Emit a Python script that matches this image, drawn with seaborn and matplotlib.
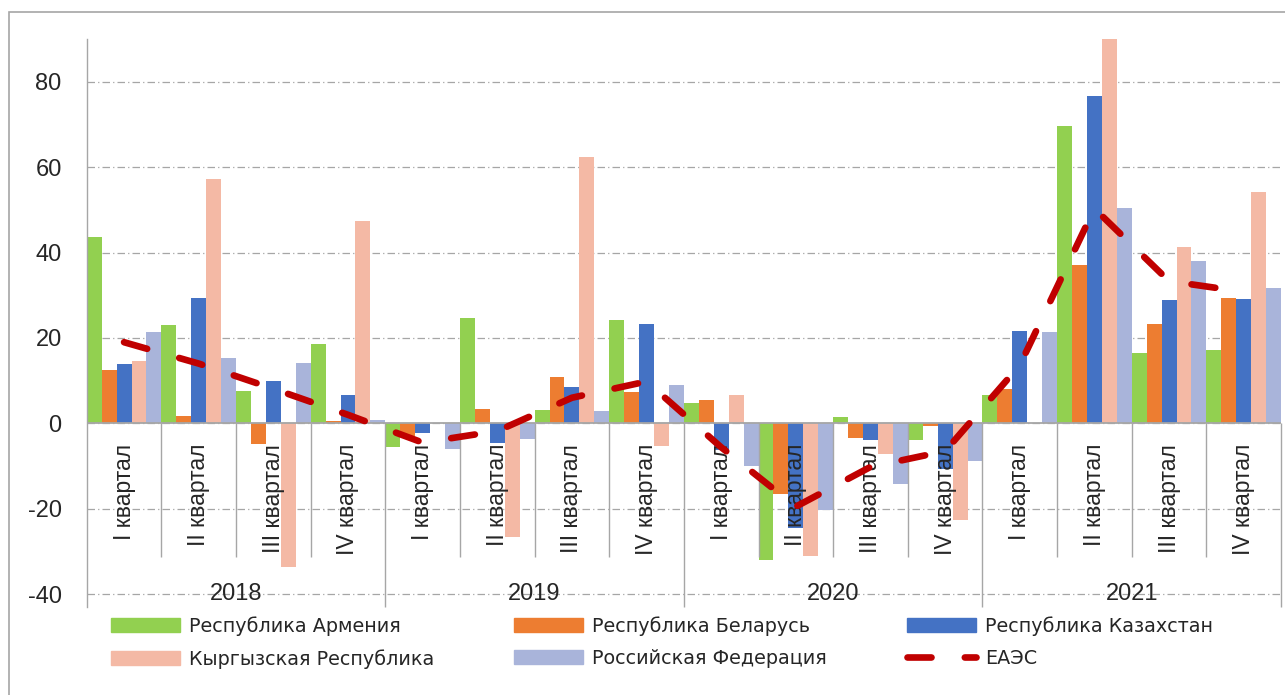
import numpy as np
import pandas as pd
import matplotlib.pyplot as plt
import matplotlib.patches as mpatches
from matplotlib.lines import Line2D
import seaborn as sns

# Data (percent change by quarter)
years = ['2018', '2019', '2020', '2021']
quarters = ['I квартал', 'II квартал', 'III квартал', 'IV квартал']
countries = ['Республика Армения', 'Республика Беларусь', 'Республика Казахстан',
             'Кыргызская Республика', 'Российская Федерация']
colors = ['#92D050', '#ED7D31', '#4472C4', '#F4B9A5', '#A9B4DA']

armenia = [43.7, 23.0, 7.5, 18.5, -5.5, 24.7, 3.1, 24.3, 4.8, -31.9, 1.6, -4.0, 6.6, 69.6, 16.5, 17.2]
belarus = [12.4, 1.7, -4.9, 0.6, -3.0, 3.3, 10.8, 7.3, 5.4, -16.5, -3.5, -0.5, 8.0, 37.0, 23.3, 29.4]
kazakhstan = [13.8, 29.4, 9.9, 6.7, -2.2, -4.7, 8.6, 23.3, -6.2, -24.4, -4.0, -10.8, 21.7, 76.6, 28.9, 29.1]
kyrgyzstan = [14.5, 57.3, -33.6, 47.4, 0.0, -26.5, 62.4, -5.3, 6.7, -31.1, -7.1, -22.6, 0.0, 95.0, 41.2, 54.2]
russia = [21.5, 15.3, 14.1, 0.9, -6.1, -3.7, 3.0, 8.9, -9.9, -20.2, -14.1, -8.9, 21.4, 50.5, 38.0, 31.6]
eaes = [19.0, 14.0, 8.1, 2.0, -4.5, -1.8, 6.0, 9.8, -5.6, -19.5, -10.2, -6.5, 13.6, 50.3, 33.3, 30.8]

periods = [f'{y} {q}' for y in years for q in quarters]
df = pd.DataFrame({
    'period': periods * 5,
    'country': np.repeat(countries, len(periods)),
    'value': armenia + belarus + kazakhstan + kyrgyzstan + russia,
})

sns.set_style('white')
plt.rcParams['font.family'] = ['Liberation Sans', 'DejaVu Sans']
plt.rcParams['axes.unicode_minus'] = False

grey = '#A6A6A6'
red = '#C00000'
dash = (0, (3.6, 5.0))
lw_line = 4.8

fig = plt.figure(figsize=(12.85, 6.95), dpi=100)
ax = fig.add_axes([0.0675, 0.1266, 0.9294, 0.8173])

sns.barplot(data=df, x='period', y='value', hue='country', order=periods,
            hue_order=countries, palette=colors, width=1.0, saturation=1,
            errorbar=None, linewidth=0, legend=False, ax=ax, zorder=2)

sns.lineplot(x=np.arange(len(periods)), y=eaes, ax=ax, color=red, lw=lw_line,
             linestyle=dash, dash_capstyle='round', legend=False, zorder=4)

ax.set_xlim(-0.5, 15.5)
ax.set_ylim(-43, 90)
ax.set_yticks([-40, -20, 0, 20, 40, 60, 80])
ax.set_xticks([])
ax.set_xlabel('')
ax.set_ylabel('')
ax.yaxis.grid(True, color=grey, linestyle=(0, (6, 2.5, 1, 2.5)), lw=0.9)
ax.set_axisbelow(True)
ax.axhline(0, color=grey, lw=1.3, zorder=3)
ax.tick_params(axis='y', direction='inout', length=10, width=1, color=grey,
               pad=13, labelsize=17)
for s in ['top', 'right', 'bottom']:
    ax.spines[s].set_visible(False)
ax.spines['left'].set_color(grey)
ax.spines['left'].set_linewidth(1)

# category axis: quarter separators, year separators, labels
quarter_sep = [k + 0.5 for k in range(15) if (k + 1) % 4 != 0]
year_sep = [3.5, 7.5, 11.5, 15.5]
ax.vlines(quarter_sep, -31.3, 0, color=grey, lw=1, zorder=3)
ax.vlines(year_sep, -43, 0, color=grey, lw=1, zorder=3, clip_on=False)
for i in range(len(periods)):
    ax.text(i, -4.8, quarters[i % 4], rotation=90, ha='center', va='top', fontsize=16.5)
for k, y in enumerate(years):
    ax.text(4 * k + 1.5, -40, y, ha='center', va='center', fontsize=17)

# chart border
fig.add_artist(mpatches.Rectangle((9 / 1285, -0.1), 1.1, 1 - 12 / 695 + 0.1,
                                  transform=fig.transFigure, fill=False,
                                  edgecolor=grey, lw=1.2))

# legend
patches = [mpatches.Patch(color=c, label=n) for c, n in zip(colors, countries)]
line_handle = Line2D([0], [0], color=red, lw=lw_line, linestyle=dash,
                     dash_capstyle='round', label='ЕАЭС')
handles = [patches[0], patches[3], patches[1], patches[4], patches[2], line_handle]
fig.legend(handles=handles, ncol=3, loc='upper left',
           bbox_to_anchor=(111 / 1285, 1 - 616 / 695), frameon=False,
           prop={'family': 'DejaVu Sans', 'size': 13.8}, handlelength=3.6,
           handleheight=0.75, handletextpad=0.45, columnspacing=4.2,
           borderpad=0, borderaxespad=0, labelspacing=0.7)

fig.savefig('out.png', dpi=100)
